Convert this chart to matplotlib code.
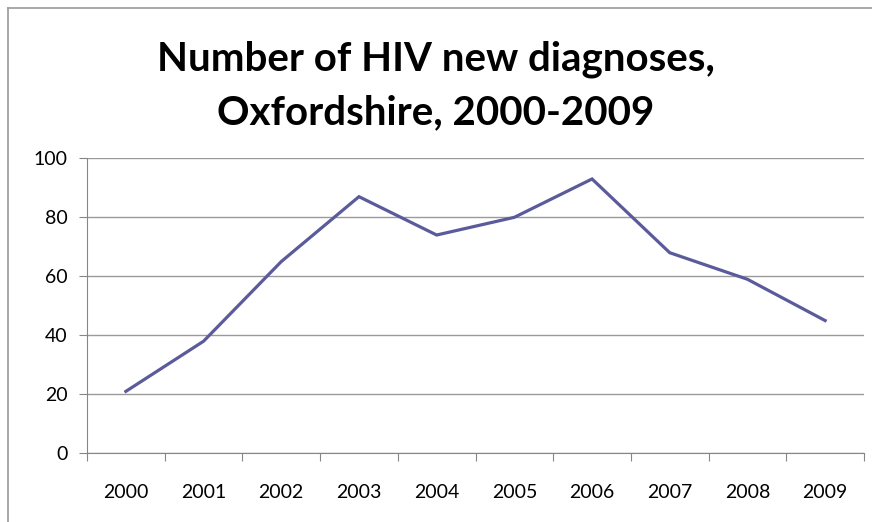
import numpy as np
import matplotlib.pyplot as plt
from matplotlib.lines import Line2D

# data
years = ["2000", "2001", "2002", "2003", "2004", "2005", "2006", "2007", "2008", "2009"]
diagnoses = [21, 38, 65, 87, 74, 80, 93, 68, 59, 45]
y_ticks = [0, 20, 40, 60, 80, 100]

plt.rcParams['font.family'] = ['Lato', 'DejaVu Sans']

fig = plt.figure(figsize=(8.72, 5.22), dpi=100)
ax = fig.add_axes([0.0998, 0.1316, 0.891, 0.5651])

x = np.arange(len(years))
ax.plot(x, diagnoses, color="#5B5B9B", lw=2.3, solid_joinstyle="miter")

ax.set_xlim(-0.5, len(years) - 0.5)
ax.set_ylim(0, 100)
ax.set_yticks(y_ticks)
ax.grid(axis="y", color="#9a9a9a", lw=1)
ax.set_axisbelow(True)

# excel style: ticks between categories, labels at centres
ax.set_xticks(np.arange(-0.5, len(years)), minor=False)
ax.set_xticklabels([])
ax.set_xticks(x, minor=True)
ax.set_xticklabels(years, minor=True, fontsize=14)
ax.tick_params(axis="x", which="major", length=6, color="#868686", direction="out")
ax.tick_params(axis="x", which="minor", length=0, pad=22)
ax.tick_params(axis="y", length=6, color="#868686", pad=8, labelsize=14)

for s in ["top", "right"]:
    ax.spines[s].set_visible(False)
for s in ["left", "bottom"]:
    ax.spines[s].set_color("#868686")

fig.text(0.5, 0.835, "Number of HIV new diagnoses,\nOxfordshire, 2000-2009",
         ha="center", va="center", fontsize=29, fontweight="bold", linespacing=1.55)

# chart area border
fig.add_artist(Line2D([8/872, 8/872], [0, 1 - 8/522], color="#9a9a9a", lw=1.2))
fig.add_artist(Line2D([8/872, 1], [1 - 8/522, 1 - 8/522], color="#9a9a9a", lw=1.2))

fig.savefig("out.png", dpi=100)
